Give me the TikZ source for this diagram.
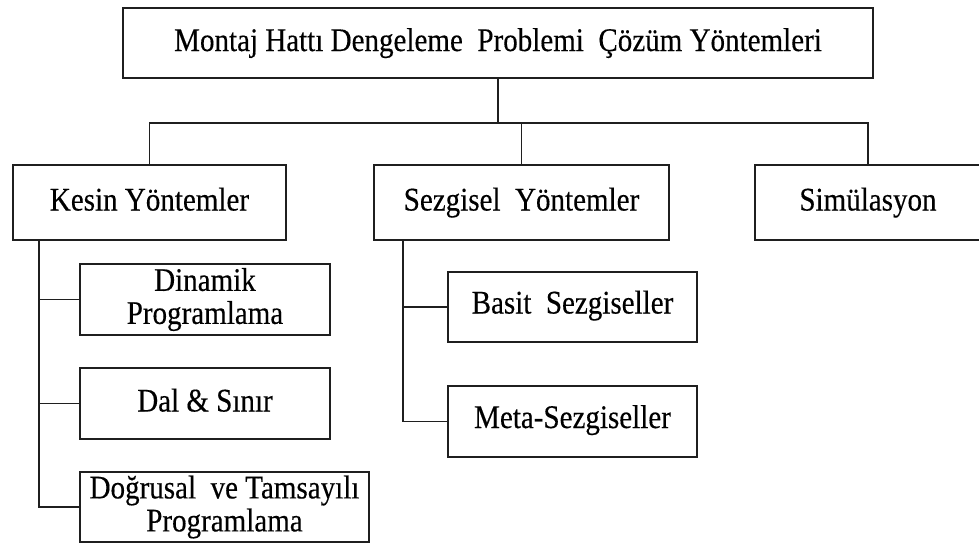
\documentclass[tikz,border=0pt]{standalone}
\usepackage{fontspec}
\setmainfont{Liberation Serif}[FakeStretch=0.88, FakeBold=0.3]
\begin{document}
\begin{tikzpicture}[x=1pt,y=1pt,
  every node/.style={inner sep=0pt, outer sep=0pt},
  box/.style={draw=black!88, line width=2pt, fill=white, align=center,
    font=\fontsize{33}{33}\selectfont},
  oneline/.style={box, text height=24pt, text depth=8pt},
  lowline/.style={box, text height=22.5pt, text depth=9.5pt},
  link/.style={draw=black!88, line width=1.8pt}]
  \useasboundingbox (0,0) rectangle (979,-542);
  \fill[white] (0,0) rectangle (979,-542);

  % root
  \node[oneline, minimum width=750, minimum height=70] (top) at (498,-43)
    {Montaj Hattı Dengeleme~ Problemi~ Çözüm Yöntemleri};

  % second level
  \node[oneline, minimum width=273, minimum height=75] (kesin) at (149.5,-202.5) {Kesin Yöntemler};
  \node[oneline, minimum width=295, minimum height=75] (sezgisel) at (521.5,-202.5) {Sezgisel~ Yöntemler};
  \node[oneline, minimum width=226, minimum height=75] (simul) at (868,-202.5) {Simülasyon};

  % exact methods
  \node[box, minimum width=250, minimum height=71] (dinamik) at (205,-299.5) {Dinamik\\Programlama};
  \node[oneline, minimum width=250, minimum height=71] (dal) at (205,-403.5) {Dal \& Sınır};
  \node[box, minimum width=289, minimum height=70] (dogrusal) at (224.5,-507) {Doğrusal~ ve Tamsayılı\\Programlama};

  % heuristic methods
  \node[lowline, minimum width=249, minimum height=70] (basit) at (572.5,-307) {Basit~ Sezgiseller};
  \node[lowline, minimum width=249, minimum height=71] (meta) at (572.5,-421.5) {Meta-Sezgiseller};

  % bus under the root
  \coordinate (busy) at (0,-122.7);
  \draw[link] (top.south) -- (top.south |- busy);
  \draw[link] (kesin.north) -- (kesin.north |- busy) -- (simul.north |- busy) -- (simul.north);
  \draw[link] (sezgisel.north) -- (sezgisel.north |- busy);

  % trunk of the exact methods
  \coordinate (ktrunk) at (39.3,-240);
  \draw[link] (ktrunk) |- (dogrusal.west);
  \draw[link] (ktrunk |- dinamik.west) -- (dinamik.west);
  \draw[link] (ktrunk |- dal.west) -- (dal.west);

  % trunk of the heuristic methods
  \coordinate (strunk) at (403.3,-240);
  \draw[link] (strunk) |- (meta.west);
  \draw[link] (strunk |- basit.west) -- (basit.west);
\end{tikzpicture}
\end{document}
